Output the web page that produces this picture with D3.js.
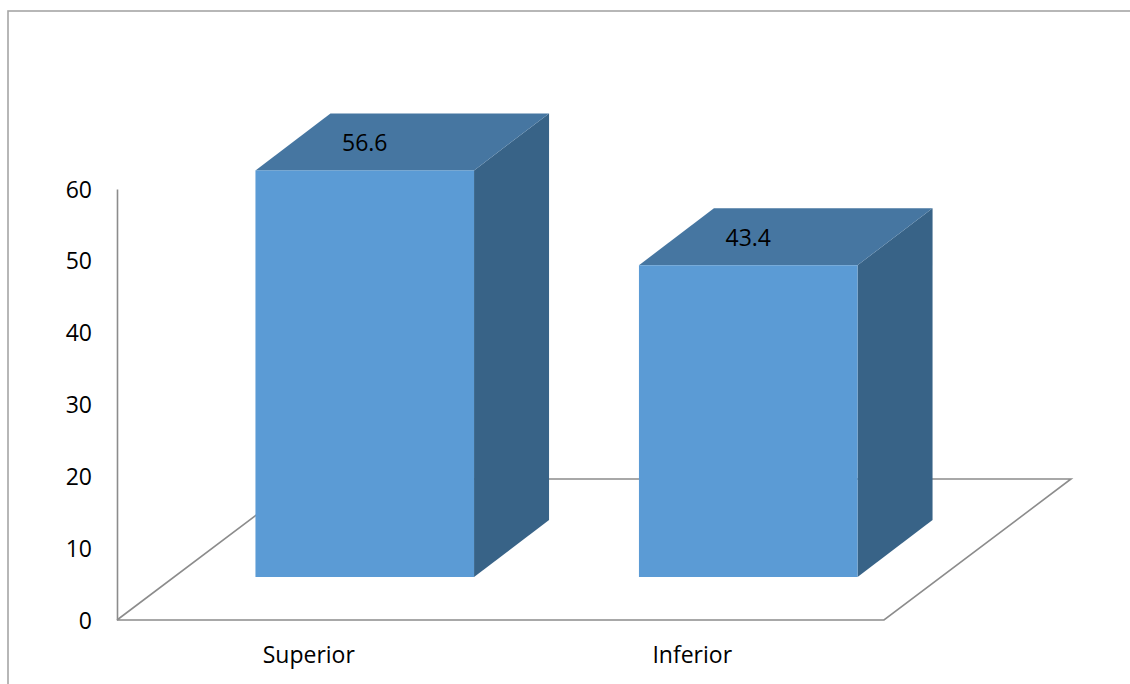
<!DOCTYPE html>
<html lang="en">
<head>
  <meta charset="UTF-8" />
  <title>3D column chart</title>
  <script src="https://d3js.org/d3.v7.min.js"></script>
  <style>
    body {
      margin: 0;
      padding: 0;
      background: #fff;
      font-family: "Open Sans", Calibri, sans-serif;
    }
    svg {
      display: block;
    }
    .floor {
      fill: none;
      stroke: #8c8c8c;
      stroke-width: 1.6;
    }
    .axis path {
      stroke: #8c8c8c;
      stroke-width: 1.6;
    }
    .axis text, .cat-label, .val-label {
      font-family: "Open Sans", Calibri, sans-serif;
      font-size: 23px;
      fill: #000;
    }
  </style>
</head>
<body>
  <svg width="1130" height="684"></svg>

  <script>
    const categories = ["Superior", "Inferior"];
    const values = [56.6, 43.4];
    const yTicks = [0, 10, 20, 30, 40, 50, 60];

    const svg = d3.select("svg");
    const g = svg.append("g");

    // chart border, only top and left edges fall inside the frame
    g.append("rect")
      .attr("x", 8)
      .attr("y", 11)
      .attr("width", 1200)
      .attr("height", 800)
      .attr("fill", "none")
      .attr("stroke", "#a6a6a6")
      .attr("stroke-width", 1.6);

    const left = 117, right = 884;
    const x = d3.scaleBand()
      .domain(categories)
      .range([left, right])
      .paddingInner(0.43)
      .paddingOuter(0.215);

    const y = d3.scaleLinear()
      .domain([0, 60])
      .range([620, 189]);

    // oblique projection offsets
    const floorDepth = { dx: 187, dy: -141 };
    const barFront = { dx: 56, dy: -43 };
    const barDepth = { dx: 75, dy: -57 };

    // floor
    const y0 = y(0);
    g.append("path")
      .attr("class", "floor")
      .attr("d", d3.line()([
        [left, y0],
        [right, y0],
        [right + floorDepth.dx, y0 + floorDepth.dy],
        [left + floorDepth.dx, y0 + floorDepth.dy],
        [left, y0]
      ]));

    // value axis
    const yAxis = d3.axisLeft(y)
      .tickValues(yTicks)
      .tickSize(0)
      .tickSizeOuter(0)
      .tickPadding(25);

    g.append("g")
      .attr("class", "axis")
      .attr("transform", `translate(${left},0)`)
      .call(yAxis)
      .call(a => a.selectAll("text").attr("dy", "0.35em"));

    const data = categories.map((c, i) => ({ cat: c, value: values[i] }));
    const bw = x.bandwidth();

    const bars = g.selectAll(".bar")
      .data(data)
      .enter()
      .append("g")
      .attr("class", "bar");

    const geom = d => {
      const x0 = x(d.cat) + barFront.dx;
      const x1 = x0 + bw;
      const yt = y(d.value) + barFront.dy;
      const yb = y(0) + barFront.dy;
      return { x0, x1, yt, yb };
    };

    // side face
    bars.append("path")
      .attr("fill", "#386387")
      .attr("d", d => {
        const p = geom(d);
        return d3.line()([
          [p.x1, p.yt],
          [p.x1 + barDepth.dx, p.yt + barDepth.dy],
          [p.x1 + barDepth.dx, p.yb + barDepth.dy],
          [p.x1, p.yb]
        ]) + "Z";
      });

    // top face
    bars.append("path")
      .attr("fill", "#4676a1")
      .attr("d", d => {
        const p = geom(d);
        return d3.line()([
          [p.x0, p.yt],
          [p.x1, p.yt],
          [p.x1 + barDepth.dx, p.yt + barDepth.dy],
          [p.x0 + barDepth.dx, p.yt + barDepth.dy]
        ]) + "Z";
      });

    // front face
    bars.append("rect")
      .attr("fill", "#5b9bd5")
      .attr("x", d => geom(d).x0)
      .attr("y", d => geom(d).yt)
      .attr("width", bw)
      .attr("height", d => geom(d).yb - geom(d).yt);

    // data labels
    bars.append("text")
      .attr("class", "val-label")
      .attr("text-anchor", "middle")
      .attr("x", d => geom(d).x0 + bw / 2)
      .attr("y", d => geom(d).yt - 27)
      .attr("dy", "0.35em")
      .text(d => d.value.toFixed(1));

    // category labels
    g.selectAll(".cat-label")
      .data(categories)
      .enter()
      .append("text")
      .attr("class", "cat-label")
      .attr("text-anchor", "middle")
      .attr("x", d => x(d) + bw / 2)
      .attr("y", 663)
      .text(d => d);
  </script>
</body>
</html>
